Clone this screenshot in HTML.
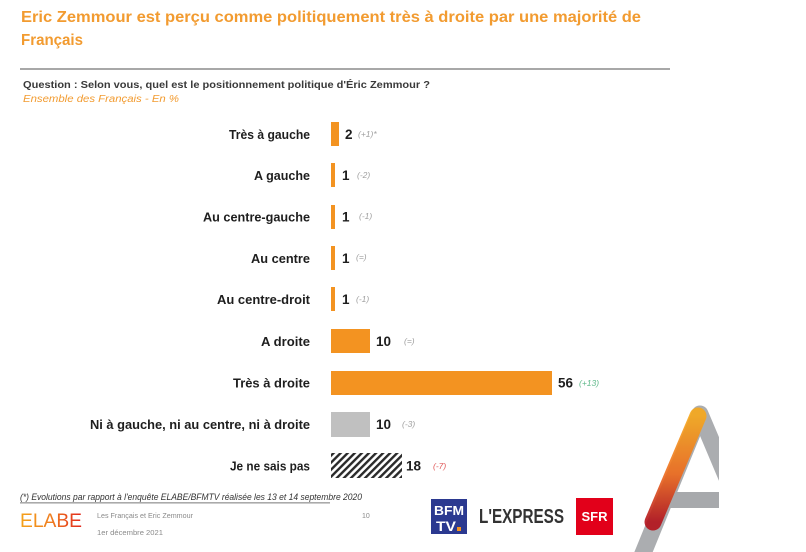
<!DOCTYPE html>
<html><head><meta charset="utf-8"><style>
html,body{margin:0;padding:0;background:#fff;}
svg{display:block;}
text{font-family:"Liberation Sans",sans-serif;}
</style></head><body>
<svg width="806" height="552" viewBox="0 0 806 552" xmlns="http://www.w3.org/2000/svg">
<defs>
<pattern id="hatch" width="5" height="5" patternUnits="userSpaceOnUse" patternTransform="rotate(45)">
<rect x="0" y="0" width="5" height="5" fill="#fff"/>
<rect x="0" y="0" width="2.4" height="5" fill="#2a2a2a"/>
</pattern>
<linearGradient id="og" x1="0" y1="0" x2="0" y2="1">
<stop offset="0" stop-color="#f7a81b"/>
<stop offset="0.55" stop-color="#ee6a1c"/>
<stop offset="1" stop-color="#b3121b"/>
</linearGradient>
<linearGradient id="elg" x1="0" y1="0" x2="1" y2="0">
<stop offset="0" stop-color="#f5a21a"/>
<stop offset="0.5" stop-color="#ef7d1f"/>
<stop offset="1" stop-color="#e2261c"/>
</linearGradient>
<clipPath id="clipA"><rect x="600" y="380" width="119" height="172"/></clipPath>
</defs>

<!-- Title -->
<text x="21" y="22" font-size="15.5" font-weight="bold" fill="#f29b30" textLength="620" lengthAdjust="spacingAndGlyphs">Eric Zemmour est perçu comme politiquement très à droite par une majorité de</text>
<text x="21" y="45" font-size="15.5" font-weight="bold" fill="#f29b30" textLength="62" lengthAdjust="spacingAndGlyphs">Français</text>
<rect x="20" y="68" width="650" height="2" fill="#a8a8a8"/>
<text x="23" y="88" font-size="10" font-weight="bold" fill="#3a3a3a" textLength="407" lengthAdjust="spacingAndGlyphs">Question : Selon vous, quel est le positionnement politique d'Éric Zemmour ?</text>
<text x="23" y="102" font-size="10" font-style="italic" fill="#f29b30" textLength="156" lengthAdjust="spacingAndGlyphs">Ensemble des Français - En  %</text>

<!-- Rows -->
<g font-size="13" font-weight="bold" fill="#1e1e1e" text-anchor="end">
<text x="310" y="139" textLength="81" lengthAdjust="spacingAndGlyphs">Très à gauche</text>
<text x="310" y="180" textLength="56" lengthAdjust="spacingAndGlyphs">A gauche</text>
<text x="310" y="221.5" textLength="107" lengthAdjust="spacingAndGlyphs">Au centre-gauche</text>
<text x="310" y="263" textLength="59" lengthAdjust="spacingAndGlyphs">Au centre</text>
<text x="310" y="304" textLength="93" lengthAdjust="spacingAndGlyphs">Au centre-droit</text>
<text x="310" y="346" textLength="49" lengthAdjust="spacingAndGlyphs">A droite</text>
<text x="310" y="387.5" textLength="77" lengthAdjust="spacingAndGlyphs">Très à droite</text>
<text x="310" y="429" textLength="220" lengthAdjust="spacingAndGlyphs">Ni à gauche, ni au centre, ni à droite</text>
<text x="310" y="470.5" textLength="80" lengthAdjust="spacingAndGlyphs">Je ne sais pas</text>
</g>

<g fill="#f39321">
<rect x="331" y="122" width="8" height="24"/>
<rect x="331" y="163" width="4" height="24"/>
<rect x="331" y="205" width="4" height="24"/>
<rect x="331" y="246" width="4" height="24"/>
<rect x="331" y="287" width="4" height="24"/>
<rect x="331" y="329" width="39" height="24"/>
<rect x="331" y="371" width="221" height="24"/>
</g>
<rect x="331" y="412" width="39" height="25" fill="#c0c0c0"/>
<rect x="331" y="453" width="71" height="25" fill="url(#hatch)"/>

<g font-size="13.5" font-weight="bold" fill="#1e1e1e">
<text x="345" y="139">2</text>
<text x="342" y="180">1</text>
<text x="342" y="221.5">1</text>
<text x="342" y="263">1</text>
<text x="342" y="304">1</text>
<text x="376" y="346">10</text>
<text x="558" y="387.5">56</text>
<text x="376" y="429">10</text>
<text x="406" y="470.5">18</text>
</g>
<g font-size="8.5" font-style="italic" fill="#a0a0a0">
<text x="358" y="137">(+1)*</text>
<text x="357" y="178">(-2)</text>
<text x="359" y="219">(-1)</text>
<text x="356" y="260">(=)</text>
<text x="356" y="302">(-1)</text>
<text x="404" y="344">(=)</text>
<text x="579" y="386" fill="#5fb98a">(+13)</text>
<text x="402" y="427">(-3)</text>
<text x="433" y="469" fill="#e05a5a">(-7)</text>
</g>

<!-- Footer -->
<text x="20" y="500" font-size="9" font-style="italic" fill="#333" textLength="342" lengthAdjust="spacingAndGlyphs">(*) Evolutions par rapport à l'enquête ELABE/BFMTV réalisée les 13 et 14 septembre 2020</text>
<rect x="20" y="502.5" width="310" height="0.8" fill="#555"/>
<text x="20" y="527" font-size="19" fill="url(#elg)" textLength="62" lengthAdjust="spacingAndGlyphs">ELABE</text>
<text x="97" y="518" font-size="7" fill="#8a8a8a" textLength="96" lengthAdjust="spacingAndGlyphs">Les Français et Eric Zemmour</text>
<text x="97" y="535" font-size="7" fill="#8a8a8a" textLength="66" lengthAdjust="spacingAndGlyphs">1er décembre 2021</text>
<text x="362" y="518" font-size="7" fill="#8a8a8a">10</text>

<!-- BFM TV -->
<rect x="431" y="499" width="36" height="35" fill="#2b3990"/>
<text x="449" y="515" font-size="13" font-weight="bold" fill="#fff" text-anchor="middle" textLength="30" lengthAdjust="spacingAndGlyphs">BFM</text>
<text x="446" y="531" font-size="14" font-weight="bold" fill="#fff" text-anchor="middle" textLength="20" lengthAdjust="spacingAndGlyphs">TV</text>
<rect x="457" y="527" width="4" height="4" fill="#f39321"/>
<!-- L'EXPRESS -->
<text x="479" y="523" font-size="20" font-weight="bold" fill="#333" textLength="85" lengthAdjust="spacingAndGlyphs">L'EXPRESS</text>
<!-- SFR -->
<rect x="576" y="498" width="37" height="37" fill="#e2001a"/>
<text x="594.5" y="521" font-size="13" font-weight="bold" fill="#fff" text-anchor="middle">SFR</text>

<!-- A logo -->
<g clip-path="url(#clipA)">
<path d="M 637 568 L 700 414 L 765 568" fill="none" stroke="#a7a9ac" stroke-width="17" stroke-linejoin="round" opacity="0.95"/>
<rect x="662" y="492" width="60" height="16" fill="#a7a9ac"/>
<line x1="698" y1="416" x2="653" y2="522" stroke="url(#og)" stroke-width="17" stroke-linecap="round" opacity="0.9"/>
</g>
</svg>
</body></html>
